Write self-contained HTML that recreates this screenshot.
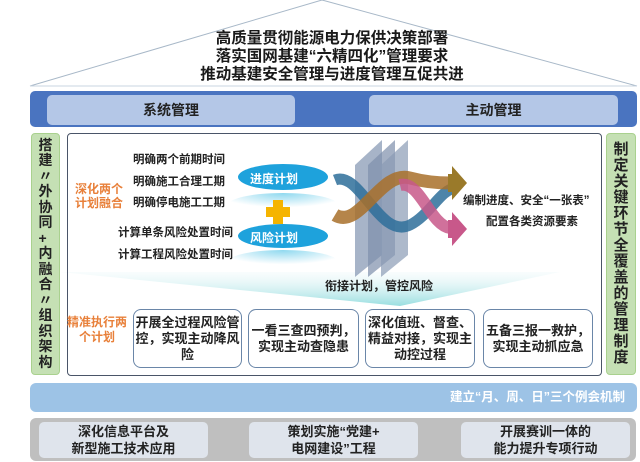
<!DOCTYPE html>
<html><head><meta charset="utf-8"><style>
*{margin:0;padding:0;box-sizing:border-box}
body{width:640px;height:462px;background:#fff;position:relative;overflow:hidden;font-family:"Liberation Sans","Noto Sans CJK SC",sans-serif;font-weight:bold;color:#222}
.a{position:absolute}
.t{position:absolute;white-space:nowrap}
.col{position:absolute;background:#c5e0b4;border:1px solid #a9d18e;border-radius:4px;display:flex;flex-direction:column;align-items:center;justify-content:center;font-size:15px;line-height:16px;color:#222}
.bx{position:absolute;border:1.5px solid #6a86a8;border-radius:8px;background:#fff;font-size:13px;line-height:16px;text-align:center;display:flex;align-items:center;justify-content:center}
.gb{position:absolute;background:#dfe4ec;border-radius:5px;font-size:13px;line-height:17px;text-align:center;display:flex;align-items:center;justify-content:center;top:422px;height:36px}
</style></head><body>
<svg class="a" style="left:0;top:0" width="640" height="462">
<polyline points="30,86 322,0 637,86" fill="none" stroke="#a8b8c8" stroke-width="1"/>
<line x1="30" y1="86" x2="637" y2="86" stroke="#c8d4e0" stroke-width="1"/>
<defs>
<radialGradient id="rf" cx="0.5" cy="0" r="0.6"><stop offset="0" stop-color="#5ec8e8" stop-opacity="0.7"/><stop offset="1" stop-color="#5ec8e8" stop-opacity="0"/></radialGradient>
<linearGradient id="fan" x1="0" y1="0" x2="0" y2="1"><stop offset="0" stop-color="#e6f6f8" stop-opacity="0.3"/><stop offset="1" stop-color="#7fd6d8"/></linearGradient>
</defs>
<polygon points="60,272 560,272 400,306" fill="url(#fan)" opacity="0.8"/>
<ellipse cx="283" cy="205" rx="55" ry="12" fill="url(#rf)"/>
<ellipse cx="283" cy="262" rx="55" ry="12" fill="url(#rf)"/>
<ellipse cx="283" cy="177" rx="45" ry="13" fill="#1ea2dc"/>
<ellipse cx="283" cy="236" rx="45" ry="12" fill="#1ea2dc"/>
<rect x="273" y="200" width="10" height="24" fill="#f5b400"/>
<rect x="266" y="207" width="24" height="10" fill="#f5b400"/>
<polygon points="355,165 382,140 382,255 355,277" fill="#8a9bb5" opacity="0.75"/>
<polygon points="368,165 395,140 395,255 368,277" fill="#7d8fab" opacity="0.7"/>
<polygon points="381,165 408,140 408,255 381,277" fill="#8a9bb5" opacity="0.7"/>
<path d="M335,180 C360,170 380,240 410,225 C430,215 440,190 455,188" fill="none" stroke="#2e6e9a" stroke-width="11" opacity="0.85"/>
<path d="M335,215 C360,230 380,170 410,178 C425,182 440,183 450,183" fill="none" stroke="#a8702a" stroke-width="13" opacity="0.85"/>
<path d="M400,185 C420,180 430,225 450,228" fill="none" stroke="#c8588a" stroke-width="12" opacity="0.85"/>
<polygon points="448,174 452,174 452,166 467,183 452,200 452,192 448,192" fill="#9a7a2a"/>
<polygon points="448,220 452,220 452,212 467,229 452,246 452,238 448,238" fill="#c8588a"/>
</svg>
<div class="t" style="left:0;width:664px;text-align:center;top:30px;font-size:15.5px;line-height:18px;color:#1a1a1a">高质量贯彻能源电力保供决策部署<br>落实国网基建“六精四化”管理要求<br>推动基建安全管理与进度管理互促共进</div>
<div class="a" style="left:30px;top:91px;width:607px;height:36px;background:#4a74c0;border-radius:5px"></div>
<div class="a" style="left:47px;top:95px;width:248px;height:30px;background:#b4c7e7;border-radius:5px;font-size:14px;line-height:30px;text-align:center">系统管理</div>
<div class="a" style="left:369px;top:95px;width:249px;height:30px;background:#b4c7e7;border-radius:5px;font-size:14px;line-height:30px;text-align:center">主动管理</div>
<div class="col" style="left:31px;top:133px;width:29px;height:242px;font-size:14px;line-height:15.5px">搭<br>建<br>〃<br>外<br>协<br>同<br>+<br>内<br>融<br>合<br>〃<br>组<br>织<br>架<br>构</div>
<div class="col" style="left:606px;top:133px;width:30px;height:242px">制<br>定<br>关<br>键<br>环<br>节<br>全<br>覆<br>盖<br>的<br>管<br>理<br>制<br>度</div>
<div class="a" style="left:67px;top:133px;width:535px;height:243px;border:1.5px solid #4a5568;border-radius:4px"></div>
<div class="t" style="left:74px;top:182px;width:50px;text-align:center;font-size:12px;line-height:14px;color:#e8803a">深化两个<br>计划融合</div>
<div class="t" style="left:66px;top:315px;width:62px;text-align:center;font-size:12px;line-height:15px;color:#e8803a">精准执行两<br>个计划</div>
<div class="t" style="left:133px;top:151px;font-size:11.5px">明确两个前期时间</div>
<div class="t" style="left:133px;top:173px;font-size:11.5px">明确施工合理工期</div>
<div class="t" style="left:133px;top:194px;font-size:11.5px">明确停电施工工期</div>
<div class="t" style="left:118px;top:224px;font-size:11.5px">计算单条风险处置时间</div>
<div class="t" style="left:118px;top:246px;font-size:11.5px">计算工程风险处置时间</div>
<div class="t" style="left:250px;top:170px;font-size:12px;color:#fff">进度计划</div>
<div class="t" style="left:250px;top:229px;font-size:12px;color:#fff">风险计划</div>
<div class="t" style="left:463px;top:192px;font-size:11.5px">编制进度、安全“一张表”</div>
<div class="t" style="left:486px;top:213px;font-size:11.5px">配置各类资源要素</div>
<div class="t" style="left:325px;top:277px;font-size:12px">衔接计划，管控风险</div>
<div class="bx" style="left:133px;top:309px;width:109px;height:59px">开展全过程风险管控，实现主动降风险</div>
<div class="bx" style="left:248px;top:309px;width:111px;height:59px">一看三查四预判，<br>实现主动查隐患</div>
<div class="bx" style="left:365px;top:309px;width:110px;height:59px">深化值班、督查、精益对接，实现主动控过程</div>
<div class="bx" style="left:483px;top:309px;width:110px;height:59px">五备三报一救护，<br>实现主动抓应急</div>
<div class="a" style="left:30px;top:383px;width:607px;height:29px;background:#9dc3e6;border-radius:6px;color:#fff;font-size:12.5px;line-height:29px;text-align:right;padding-right:12px">建立“月、周、日”三个例会机制</div>
<div class="a" style="left:30px;top:418px;width:606px;height:43px;background:#bfbfbf;border-radius:6px"></div>
<div class="gb" style="left:39px;width:169px">深化信息平台及<br>新型施工技术应用</div>
<div class="gb" style="left:249px;width:169px">策划实施“党建+<br>电网建设”工程</div>
<div class="gb" style="left:461px;width:169px">开展赛训一体的<br>能力提升专项行动</div>
</body></html>
